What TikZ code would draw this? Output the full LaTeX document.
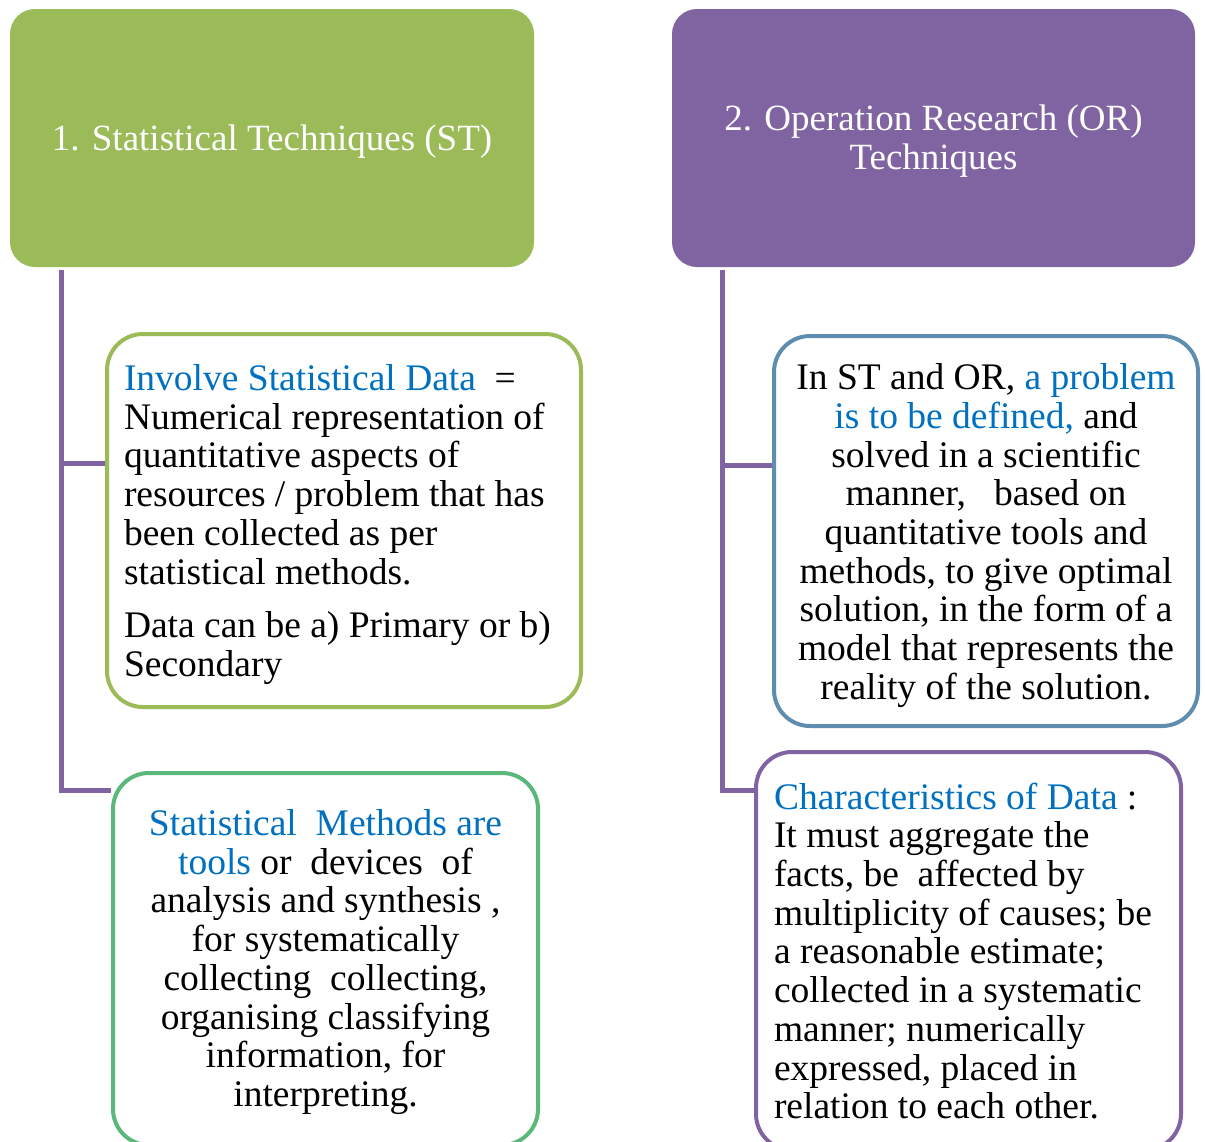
\documentclass[tikz,border=0pt]{standalone}
\usepackage{fontspec}
\setmainfont{Liberation Serif}
\definecolor{stgreen}{HTML}{9BBB59}
\definecolor{orpurple}{HTML}{8064A2}
\definecolor{methgreen}{HTML}{5CB77A}
\definecolor{steelblue}{HTML}{5F8DB0}
\definecolor{hiblue}{HTML}{0070C0}
\newcommand{\hl}[1]{\textcolor{hiblue}{#1}}
\tikzset{
  header/.style={rounded corners=25pt, inner sep=0pt},
  headtext/.style={text=white, align=flush center, inner sep=0pt,
    font=\fontsize{37}{39}\selectfont},
  itembox/.style={draw=#1, fill=white, line width=4pt, rounded corners=36pt},
  itemtext/.style={inner sep=0pt, font=\fontsize{37.5}{38.7}\selectfont},
  conn/.style={draw=orpurple, line width=5pt}
}
\begin{document}
\begin{tikzpicture}[x=1pt, y=-1pt]
\useasboundingbox (0,0) rectangle (1205,1141);
\clip (0,0) rectangle (1205,1141);

% column headers
\node[header, fill=stgreen, minimum width=524pt, minimum height=258pt]
  (st) at (272,138) {};
\node[headtext, yshift=-4pt] (sttext) at (st.center)
  {1. Statistical Techniques (ST)};
\node[header, fill=orpurple, minimum width=523pt, minimum height=258pt]
  (or) at (933.5,138) {};
\node[headtext, yshift=-3pt] (ortext) at (or.center)
  {2. Operation Research (OR)\\Techniques};

% left column
\node[itembox=stgreen, minimum width=474pt, minimum height=373pt]
  (data) at (344,520.5) {};
\node[itemtext, text width=440pt, align=flush left, yshift=-4pt] (datatext)
  at (data.center)
  {\hl{Involve Statistical Data}\ \ =\\
   Numerical representation of\\
   quantitative aspects of\\
   resources / problem that has\\
   been collected as per\\
   statistical methods.\\[15pt]
   Data can be a) Primary or b)\\
   Secondary};
\node[itembox=methgreen, minimum width=425pt, minimum height=372pt]
  (methods) at (325.5,959) {};
\node[itemtext, text width=405pt, align=flush center, yshift=-3pt] (methodstext)
  at (methods.center)
  {\hl{Statistical\ \ Methods are}\\
   \hl{tools} or\ \ devices\ \ of\\
   analysis and synthesis ,\\
   for systematically\\
   collecting\ \ collecting,\\
   organising classifying\\
   information, for\\
   interpreting.};

% right column
\node[itembox=steelblue, minimum width=424pt, minimum height=390pt]
  (problem) at (986,531) {};
\node[itemtext, text width=404pt, align=flush center, yshift=-4.5pt] (problemtext)
  at (problem.center)
  {In ST and OR, \hl{a problem}\\
   \hl{is to be defined,} and\\
   solved in a scientific\\
   manner,\ \ \ based on\\
   quantitative tools and\\
   methods, to give optimal\\
   solution, in the form of a\\
   model that represents the\\
   reality of the solution.};
\node[itembox=orpurple, minimum width=425pt, minimum height=398pt]
  (charac) at (968.5,951) {};
\node[itemtext, text width=389pt, align=flush left] (charactext)
  at (charac.center)
  {\hl{Characteristics of Data} :\\
   It must aggregate the\\
   facts, be\ \ affected by\\
   multiplicity of causes; be\\
   a reasonable estimate;\\
   collected in a systematic\\
   manner; numerically\\
   expressed, placed in\\
   relation to each other.};

% trunk lines with their branches
\coordinate (lt) at (61,270);
\coordinate (lb1) at (61,463);
\coordinate (lb2) at (61,790);
\coordinate (rt) at (722,270);
\coordinate (rb1) at (722,465);
\coordinate (rb2) at (722,790);
\draw[conn] (lt) -- (lb2) -- (lb2 -| methods.west);
\draw[conn] (lb1) -- (lb1 -| data.west);
\draw[conn] (rt) -- (rb2) -- (rb2 -| charac.west);
\draw[conn] (rb1) -- (rb1 -| problem.west);
\end{tikzpicture}
\end{document}
